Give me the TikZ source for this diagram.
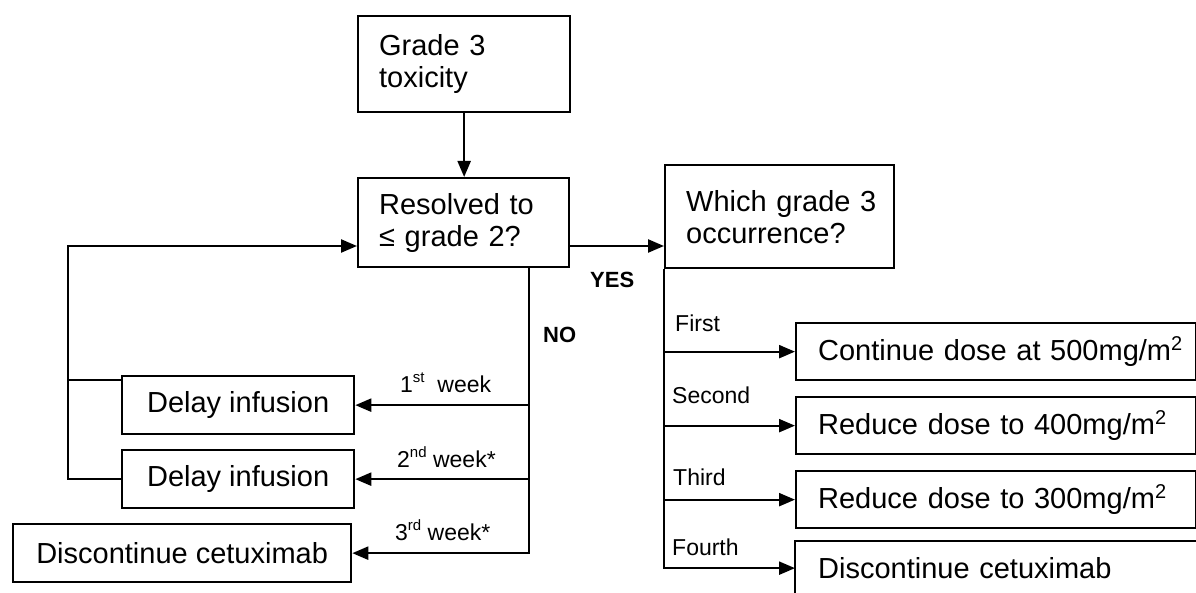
\documentclass[tikz,border=0pt]{standalone}
\usepackage{fontspec}
\setmainfont{Liberation Sans}
\usetikzlibrary{arrows.meta}
\newcommand{\mysup}[1]{\raisebox{0.36em}{\fontsize{20}{20}\selectfont #1}}
\newcommand{\mysmallsup}[1]{\raisebox{0.42em}{\fontsize{15}{15}\selectfont #1}}
\begin{document}
\begin{tikzpicture}[x=1pt,y=-1pt,
  every node/.style={inner sep=0pt},
  box/.style={draw, line width=2.3pt, anchor=north west, font=\fontsize{29}{32}\selectfont},
  lbox/.style={box, align=left, inner xsep=21pt},
  cbox/.style={box, align=center},
  con/.style={line width=2.3pt},
  arr/.style={con, -{Triangle[length=16pt,width=13pt]}},
  lab/.style={anchor=base west, font=\fontsize{23}{26}\selectfont},
  blab/.style={anchor=base west, font=\bfseries\fontsize{22}{24}\selectfont}]
\useasboundingbox (0,0) rectangle (1196,593);
\clip (0,0) rectangle (1196,593);

% boxes
\node[lbox, text width=170pt, minimum height=96pt] (grade) at (357,15) {Grade 3\\toxicity};
\node[lbox, text width=169pt, minimum height=89pt] (res) at (357,177) {Resolved to\\≤ grade 2?};
\node[lbox, text width=187pt, minimum height=103pt] (which) at (664,164) {\mbox{Which grade 3}\\occurrence?};

\node[lbox, inner xsep=22pt, text width=356pt, minimum height=57pt] (r1) at (795,322) {\mbox{Continue dose at 500mg/m\mysup{2}}};
\node[lbox, inner xsep=22pt, text width=356pt, minimum height=57pt] (r2) at (795,396) {\mbox{Reduce dose to 400mg/m\mysup{2}}};
\node[lbox, inner xsep=22pt, text width=356pt, minimum height=57pt] (r3) at (795,470) {\mbox{Reduce dose to 300mg/m\mysup{2}}};
\node[lbox, draw=none, inner xsep=22pt, text width=356pt, minimum height=52pt] (r4) at (795,541) {\mbox{Discontinue cetuximab}};
\draw[con] ([yshift=-30pt]r4.south west) |- (r4.north east) -- ([yshift=-30pt]r4.south east);

\node[cbox, minimum width=232pt, minimum height=58pt] (d1) at (121,375) {Delay infusion};
\node[cbox, minimum width=232pt, minimum height=58pt] (d2) at (121,449) {Delay infusion};
\node[cbox, minimum width=338pt, minimum height=58pt] (dc) at (12,523) {Discontinue cetuximab};

% helper coordinates
\coordinate (lp) at (68,246);
\coordinate (nx) at (529,554);

% connectors
\draw[arr] (grade.south) -- (grade.south |- res.north);
\draw[con] ([yshift=-5pt]d1.north west) -- ([yshift=-5pt]d1.north west -| lp);
\draw[arr] (d2.west) -| (lp) -- (lp -| res.west);
\draw[arr] (res.east |- lp) -- (which.west |- lp);
\draw[arr] (res.south -| nx) |- (dc.east);
\draw[arr] (nx |- d1.east) -- (d1.east);
\draw[arr] (nx |- d2.east) -- (d2.east);
\draw[arr] (which.south west) |- (r4.west);
\draw[arr] (which.south west |- r1.west) -- (r1.west);
\draw[arr] (which.south west |- r2.west) -- (r2.west);
\draw[arr] (which.south west |- r3.west) -- (r3.west);

% labels
\node[lab] (lf1) at (675,332) {First};
\node[lab] (lf2) at (672,403) {Second};
\node[lab] (lf3) at (673,485) {Third};
\node[lab] (lf4) at (672,555) {Fourth};
\node[lab] (w1) at (400,392) {1\mysmallsup{st}\ \ week};
\node[lab] (w2) at (397,467) {2\mysmallsup{nd} week*};
\node[lab] (w3) at (395,540) {3\mysmallsup{rd} week*};
\node[blab] (no) at (543,342) {NO};
\node[blab] (yes) at (590,288) {YES};
\end{tikzpicture}
\end{document}
